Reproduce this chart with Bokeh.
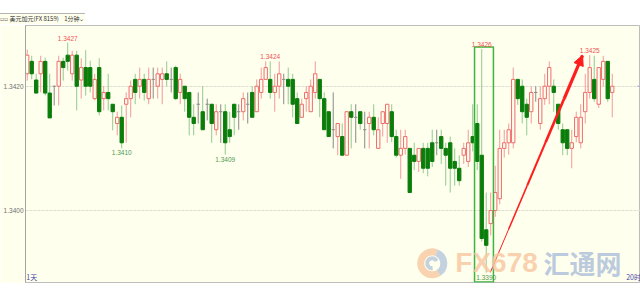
import numpy as np
from bokeh.plotting import figure
from bokeh.models import (Range1d, FixedTicker, PrintfTickFormatter, Label,
                          Arrow, NormalHead, Div)
from bokeh.layouts import column
from bokeh.embed import file_html
from bokeh.resources import INLINE

# ---------------- data (USD/CAD, 1-minute candles) ----------------
opens = [
    1.34220, 1.34240, 1.34210, 1.34220, 1.34240, 1.34189, 1.34200, 1.34200, 1.34240, 1.34250,
    1.34220, 1.34250, 1.34210, 1.34230, 1.34230, 1.34180, 1.34230, 1.34180, 1.34190, 1.34171,
    1.34140, 1.34150, 1.34171, 1.34180, 1.34211, 1.34200, 1.34211, 1.34180, 1.34211, 1.34200,
    1.34211, 1.34220, 1.34211, 1.34230, 1.34190, 1.34200, 1.34190, 1.34150, 1.34171, 1.34159,
    1.34171, 1.34171, 1.34130, 1.34159, 1.34159, 1.34130, 1.34171, 1.34159, 1.34159, 1.34171,
    1.34190, 1.34159, 1.34190, 1.34211, 1.34211, 1.34190, 1.34200, 1.34211, 1.34211, 1.34211,
    1.34180, 1.34150, 1.34180, 1.34159, 1.34190, 1.34211, 1.34180, 1.34159, 1.34130, 1.34119,
    1.34119, 1.34089, 1.34159, 1.34150, 1.34159, 1.34130, 1.34140, 1.34150, 1.34100, 1.34140,
    1.34140, 1.34159, 1.34119, 1.34089, 1.34100, 1.34100, 1.34089, 1.34079, 1.34100, 1.34100,
    1.34109, 1.34109, 1.34119, 1.34100, 1.34109, 1.34079, 1.34068, 1.34089, 1.34079, 1.34119,
    1.34140, 1.34089, 1.33969, 1.33979, 1.34000, 1.34019, 1.34100, 1.34109, 1.34109, 1.34211,
    1.34200, 1.34171, 1.34159, 1.34190, 1.34140, 1.34180, 1.34200, 1.34200, 1.34171, 1.34130,
    1.34130, 1.34100, 1.34119, 1.34109, 1.34159, 1.34190, 1.34211, 1.34171, 1.34211, 1.34240,
    1.34190]
highs = [
    1.34259, 1.34249, 1.34220, 1.34249, 1.34246, 1.34220, 1.34201, 1.34249, 1.34246, 1.34270,
    1.34257, 1.34257, 1.34245, 1.34258, 1.34241, 1.34220, 1.34245, 1.34200, 1.34220, 1.34171,
    1.34159, 1.34169, 1.34190, 1.34209, 1.34220, 1.34230, 1.34220, 1.34230, 1.34230, 1.34230,
    1.34230, 1.34240, 1.34230, 1.34233, 1.34220, 1.34200, 1.34190, 1.34171, 1.34190, 1.34200,
    1.34180, 1.34171, 1.34171, 1.34171, 1.34171, 1.34159, 1.34171, 1.34171, 1.34190, 1.34190,
    1.34200, 1.34211, 1.34230, 1.34240, 1.34240, 1.34220, 1.34240, 1.34220, 1.34230, 1.34220,
    1.34190, 1.34180, 1.34200, 1.34211, 1.34240, 1.34211, 1.34190, 1.34159, 1.34190, 1.34140,
    1.34140, 1.34159, 1.34171, 1.34171, 1.34159, 1.34159, 1.34159, 1.34171, 1.34150, 1.34159,
    1.34171, 1.34171, 1.34130, 1.34130, 1.34130, 1.34100, 1.34109, 1.34100, 1.34109, 1.34109,
    1.34130, 1.34130, 1.34130, 1.34109, 1.34119, 1.34100, 1.34089, 1.34109, 1.34130, 1.34171,
    1.34171, 1.34260, 1.34029, 1.34029, 1.34072, 1.34130, 1.34130, 1.34140, 1.34230, 1.34211,
    1.34211, 1.34180, 1.34200, 1.34200, 1.34200, 1.34220, 1.34240, 1.34211, 1.34171, 1.34140,
    1.34130, 1.34130, 1.34159, 1.34171, 1.34220, 1.34250, 1.34249, 1.34230, 1.34249, 1.34240,
    1.34220]
lows = [
    1.34209, 1.34211, 1.34188, 1.34190, 1.34185, 1.34149, 1.34169, 1.34169, 1.34209, 1.34225,
    1.34209, 1.34161, 1.34180, 1.34185, 1.34190, 1.34177, 1.34153, 1.34161, 1.34161, 1.34129,
    1.34121, 1.34100, 1.34109, 1.34150, 1.34171, 1.34180, 1.34177, 1.34171, 1.34180, 1.34180,
    1.34171, 1.34200, 1.34190, 1.34178, 1.34171, 1.34159, 1.34121, 1.34121, 1.34140, 1.34130,
    1.34145, 1.34109, 1.34121, 1.34109, 1.34090, 1.34109, 1.34121, 1.34130, 1.34145, 1.34140,
    1.34150, 1.34159, 1.34180, 1.34211, 1.34180, 1.34159, 1.34180, 1.34171, 1.34171, 1.34150,
    1.34140, 1.34150, 1.34159, 1.34159, 1.34180, 1.34150, 1.34130, 1.34119, 1.34100, 1.34089,
    1.34089, 1.34089, 1.34100, 1.34109, 1.34130, 1.34100, 1.34100, 1.34121, 1.34100, 1.34119,
    1.34109, 1.34110, 1.34085, 1.34051, 1.34090, 1.34029, 1.34065, 1.34062, 1.34060, 1.34055,
    1.34070, 1.34089, 1.34075, 1.34040, 1.34029, 1.34040, 1.34040, 1.34075, 1.34070, 1.34095,
    1.34065, 1.33950, 1.33900, 1.33960, 1.33990, 1.34010, 1.34085, 1.34090, 1.34100, 1.34170,
    1.34140, 1.34121, 1.34140, 1.34175, 1.34130, 1.34170, 1.34171, 1.34159, 1.34130, 1.34089,
    1.34089, 1.34068, 1.34110, 1.34100, 1.34140, 1.34180, 1.34175, 1.34165, 1.34200, 1.34175,
    1.34150]
closes = [
    1.34250, 1.34220, 1.34189, 1.34240, 1.34189, 1.34149, 1.34200, 1.34240, 1.34230, 1.34240,
    1.34250, 1.34200, 1.34230, 1.34200, 1.34200, 1.34211, 1.34159, 1.34190, 1.34180, 1.34159,
    1.34150, 1.34109, 1.34180, 1.34200, 1.34190, 1.34211, 1.34190, 1.34211, 1.34211, 1.34220,
    1.34220, 1.34211, 1.34211, 1.34180, 1.34211, 1.34180, 1.34150, 1.34140, 1.34171, 1.34130,
    1.34171, 1.34140, 1.34159, 1.34159, 1.34109, 1.34119, 1.34150, 1.34159, 1.34180, 1.34171,
    1.34150, 1.34200, 1.34211, 1.34230, 1.34190, 1.34200, 1.34220, 1.34211, 1.34200, 1.34171,
    1.34140, 1.34171, 1.34190, 1.34200, 1.34220, 1.34180, 1.34130, 1.34119, 1.34130, 1.34140,
    1.34089, 1.34159, 1.34150, 1.34150, 1.34140, 1.34130, 1.34150, 1.34130, 1.34130, 1.34159,
    1.34171, 1.34119, 1.34089, 1.34100, 1.34119, 1.34029, 1.34079, 1.34100, 1.34068, 1.34068,
    1.34079, 1.34109, 1.34100, 1.34089, 1.34068, 1.34068, 1.34048, 1.34100, 1.34109, 1.34109,
    1.34079, 1.33955, 1.33944, 1.34000, 1.34029, 1.34100, 1.34109, 1.34130, 1.34211, 1.34180,
    1.34159, 1.34150, 1.34190, 1.34190, 1.34180, 1.34200, 1.34230, 1.34190, 1.34140, 1.34109,
    1.34100, 1.34109, 1.34150, 1.34150, 1.34190, 1.34230, 1.34180, 1.34230, 1.34240, 1.34180,
    1.34200]

y_ticks = [1.3400, 1.3420]
high_marks = [9, 54, 101, 125]     # candles whose highs are labelled
low_marks = [21, 44, 102]          # candles whose lows are labelled
box_candles = (100, 103)           # highlighted candles (green frame)
arrow_from = 102.9                 # arrow: from the session low ...
arrow_to = 123.4                   # ... up towards the 1.3425 high
title_name = "美元加元(FX 8159)"
title_period = "1分钟⌄"
last_price = 1.3420

# ---------------- styling ----------------
BG = "#FFFFEE"
UP_LINE = "#F06A6A"
UP_WICK = "#F29A9A"
DN_FILL = "#0A7D0A"
DN_WICK = "#8FCB8F"
DOJI = "#8A8A8A"
HI_TXT = "#F05050"
LO_TXT = "#4E9A4E"

n = len(opens)
idx = list(range(n))
up = [i for i in idx if closes[i] > opens[i]]
dn = [i for i in idx if closes[i] < opens[i]]
dj = [i for i in idx if closes[i] == opens[i]]

p = figure(width=640, height=258, output_backend="svg", toolbar_location=None,
           x_range=Range1d(-0.38, 136.28), y_range=Range1d(1.338842, 1.342977),
           x_axis_type=None, min_border_left=23, min_border_right=0,
           min_border_top=0, min_border_bottom=1)
p.background_fill_color = BG
p.border_fill_color = BG
p.outline_line_color = "#BDBDBD"

ax = p.yaxis[0]
ax.ticker = FixedTicker(ticks=y_ticks)
ax.formatter = PrintfTickFormatter(format="%.4f")
ax.axis_line_color = "#A5A5A5"
ax.major_tick_line_color = None
ax.minor_tick_line_color = None
ax.major_tick_out = 0
ax.major_label_standoff = 2
ax.major_label_text_font = "Liberation Sans"
ax.major_label_text_font_size = "6.5px"
ax.major_label_text_color = "#707070"
p.xgrid.visible = False
p.ygrid.grid_line_color = "#DDDDD2"
p.ygrid.grid_line_dash = "3 1"

# wicks
wick_col = [UP_WICK if closes[i] > opens[i] else (DN_WICK if closes[i] < opens[i] else DOJI) for i in idx]
p.segment(x0=idx, y0=lows, x1=idx, y1=highs, line_color=wick_col, line_width=1)

W = 0.74
p.vbar(x=up, width=W, top=[closes[i] for i in up], bottom=[opens[i] for i in up],
       fill_color=BG, line_color=UP_LINE, line_width=1)
p.vbar(x=dn, width=W, top=[opens[i] for i in dn], bottom=[closes[i] for i in dn],
       fill_color=DN_FILL, line_color=DN_FILL, line_width=1)
p.segment(x0=[i - W / 2 for i in dj], y0=[opens[i] for i in dj],
          x1=[i + W / 2 for i in dj], y1=[opens[i] for i in dj],
          line_color=DOJI, line_width=1)

# last-price stub at right edge
p.segment(x0=[135.6], y0=[last_price], x1=[136.3], y1=[last_price],
          line_color="#B4B4D6", line_width=1.5)

# highlight box
p.quad(left=[box_candles[0] - 0.6], right=[box_candles[1] + 0.6],
       top=[highs[101] + 0.00003], bottom=[1.33885],
       fill_alpha=0, line_color="#3DB43D", line_width=1.5)

# watermark
p.annular_wedge(x=[90.0], y=[1.33915], inner_radius=8, outer_radius=15,
                inner_radius_units="screen", outer_radius_units="screen",
                start_angle=1.2, end_angle=5.3, fill_color="#F7C7A0",
                fill_alpha=0.8, line_color=None)
p.annular_wedge(x=[90.0], y=[1.33915], inner_radius=8, outer_radius=15,
                inner_radius_units="screen", outer_radius_units="screen",
                start_angle=5.3, end_angle=7.48, fill_color="#B5C6DA",
                fill_alpha=0.8, line_color=None)
p.annular_wedge(x=[90.0], y=[1.33915], inner_radius=3, outer_radius=7,
                inner_radius_units="screen", outer_radius_units="screen",
                start_angle=0.5, end_angle=4.8, fill_color="#B5C6DA",
                fill_alpha=0.8, line_color=None)
p.add_layout(Label(x=104.3, y=1.33916, text="FX678", text_align="center",
                   text_baseline="middle", text_font="Liberation Sans",
                   text_font_size="28px", text_font_style="bold",
                   text_color="#F8C9A4", text_alpha=0.85))
p.add_layout(Label(x=123.4, y=1.33916, text="汇通网", text_align="center",
                   text_baseline="middle", text_font="Noto Sans CJK SC",
                   text_font_size="26px", text_font_style="bold",
                   text_color="#AFC2DA", text_alpha=0.85))

# arrow (tapered)
a_x = np.linspace(arrow_from, arrow_to, 6)
a_y = np.linspace(lows[102] + 0.0000035, highs[125] - 0.0000035, 6)
for k in range(5):
    p.segment(x0=[a_x[k]], y0=[a_y[k]], x1=[a_x[k + 1]], y1=[a_y[k + 1]],
              line_color="#FF1E1E", line_width=1.0 + 0.55 * k)
p.add_layout(Arrow(end=NormalHead(size=10, fill_color="#FF1E1E", line_color="#FF1E1E"),
                   x_start=a_x[4], y_start=a_y[4], x_end=a_x[5], y_end=a_y[5],
                   line_alpha=0))

# price marks
for i in high_marks:
    p.add_layout(Label(x=i, y=highs[i], text=f"{highs[i]:.4f}", text_align="center",
                       text_baseline="bottom", y_offset=2,
                       text_font="Liberation Sans", text_font_size="6.5px",
                       text_color=HI_TXT))
for i in low_marks:
    p.add_layout(Label(x=i, y=lows[i], text=f"{lows[i]:.4f}", text_align="center",
                       text_baseline="top", y_offset=-2,
                       text_font="Liberation Sans", text_font_size="6.5px",
                       text_color=LO_TXT))

# time marks
p.add_layout(Label(x=-0.2, y=1.33893, text="1天", text_baseline="middle",
                   text_font="Noto Sans CJK SC", text_font_size="7px",
                   text_color="#4848A8"))
p.add_layout(Label(x=133.1, y=1.33893, text="20时", text_baseline="middle",
                   text_font="Noto Sans CJK SC", text_font_size="7px",
                   text_color="#4848A8"))

header_html = (
    '<div style="height:14px;background:#FFFFFF;border-bottom:1px solid #B4B4B4;"></div>'
    '<div style="height:10px;background:#FFFFEE;color:#333333;white-space:pre;'
    "font-family:'Noto Sans CJK SC';font-size:6px;line-height:10px;\">"
    '<span style="color:#666666;font-family:\'DejaVu Sans\';">▫▫</span> '
    + title_name + '    ' + title_period + '</div>'
)
top = Div(text=header_html, width=640, height=25,
          styles={"margin": "0", "padding": "0", "overflow": "hidden"})
layout = column(top, p, spacing=0)
open("out.html", "w").write(file_html(layout, INLINE))
